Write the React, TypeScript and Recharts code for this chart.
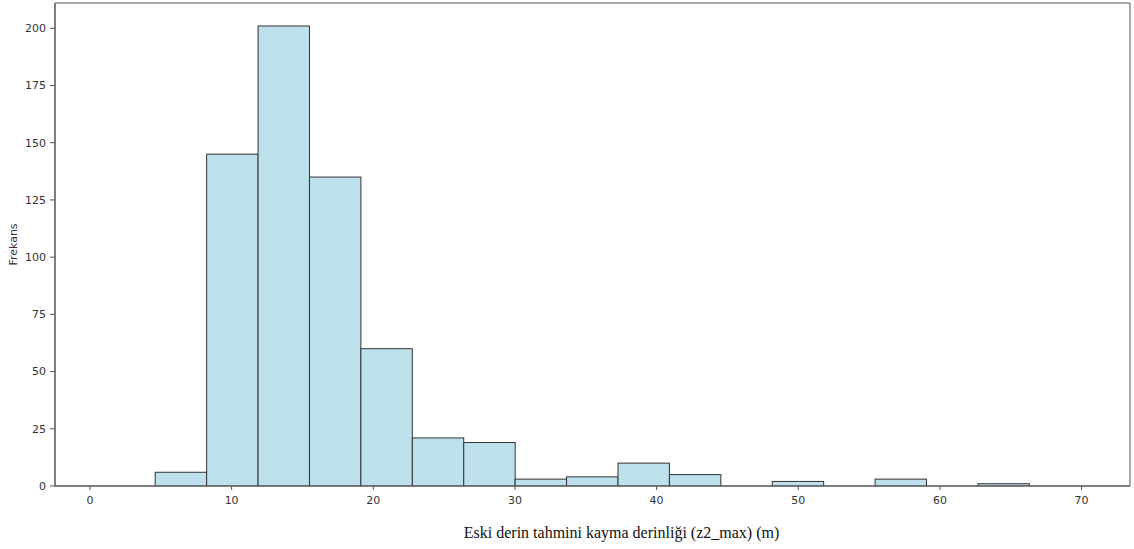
import { ComposedChart, Bar, XAxis, YAxis, ReferenceArea } from 'recharts'

// histogram bins (left edges, common width)
const binLeft = [
  0.98, 4.61, 8.24, 11.87, 15.5, 19.13, 22.76, 26.39, 30.02, 33.65,
  37.28, 40.91, 44.54, 48.17, 51.8, 55.43, 59.06, 62.69, 66.32
]
const binWidth = 3.63
const counts = [0, 6, 145, 201, 135, 60, 21, 19, 3, 4, 10, 5, 0, 2, 0, 3, 0, 1, 0]

const xTicks = [0, 10, 20, 30, 40, 50, 60, 70]
const yTicks = [0, 25, 50, 75, 100, 125, 150, 175, 200]

const xDomain: [number, number] = [-2.47, 73.42]
const yDomain: [number, number] = [0, 211.05]

const data = binLeft.map((left, i) => ({
  mid: left + binWidth / 2,
  count: counts[i]
}))

const W = 1134
const H = 549
const margin = { top: 3, right: 4, left: 0, bottom: 33 }
const yAxisWidth = 55
const plotWidth = W - margin.left - margin.right - yAxisWidth
const barPx = (binWidth * plotWidth) / (xDomain[1] - xDomain[0])

const tickStyle = { fill: '#333', fontSize: 11, fontFamily: 'DejaVu Sans' }

// recharts shrinks bars on a numeric axis, so redraw each one at full bin width
const BinShape = (props: any) => {
  const { x, y, width, height } = props
  if (!height || height <= 0) return null
  const cx = x + width / 2
  return (
    <rect
      x={cx - barPx / 2}
      y={y}
      width={barPx}
      height={height}
      fill="#BDE0EB"
      stroke="#333"
      strokeWidth={1}
    />
  )
}

const YTitle = (props: any) => {
  const vb = props.viewBox
  const cx = vb.x + 13
  const cy = vb.y + vb.height / 2
  return (
    <text
      x={cx}
      y={cy}
      transform={`rotate(-90 ${cx} ${cy})`}
      textAnchor="middle"
      dominantBaseline="central"
      fill="#333"
      fontSize={11}
      fontFamily="DejaVu Sans"
    >
      Frekans
    </text>
  )
}

const XTitle = (props: any) => {
  const vb = props.viewBox
  return (
    <text
      x={vb.x + vb.width / 2 + 29}
      y={538}
      textAnchor="middle"
      fill="#111"
      fontSize={16}
      fontFamily="Liberation Serif"
    >
      Eski derin tahmini kayma derinliği (z2_max) (m)
    </text>
  )
}

export default function App() {
  return (
    <div style={{ position: 'absolute', left: 0, top: 0, width: W, height: H, background: '#fff' }}>
      <ComposedChart width={W} height={H} data={data} margin={margin}>
        <XAxis
          dataKey="mid"
          type="number"
          domain={xDomain}
          ticks={xTicks}
          allowDataOverflow
          tick={tickStyle}
          tickSize={4}
          tickMargin={6}
          stroke="#555"
          height={30}
          label={<XTitle />}
        />
        <YAxis
          type="number"
          domain={yDomain}
          ticks={yTicks}
          allowDataOverflow
          tick={tickStyle}
          tickSize={5}
          tickMargin={4}
          stroke="#555"
          width={yAxisWidth}
          label={<YTitle />}
        />
        <Bar
          dataKey="count"
          shape={<BinShape />}
          isAnimationActive={false}
        />
        <ReferenceArea
          x1={xDomain[0]}
          x2={xDomain[1]}
          y1={yDomain[0]}
          y2={yDomain[1]}
          fill="none"
          stroke="#555"
          strokeWidth={1}
          ifOverflow="visible"
        />
      </ComposedChart>
    </div>
  )
}
